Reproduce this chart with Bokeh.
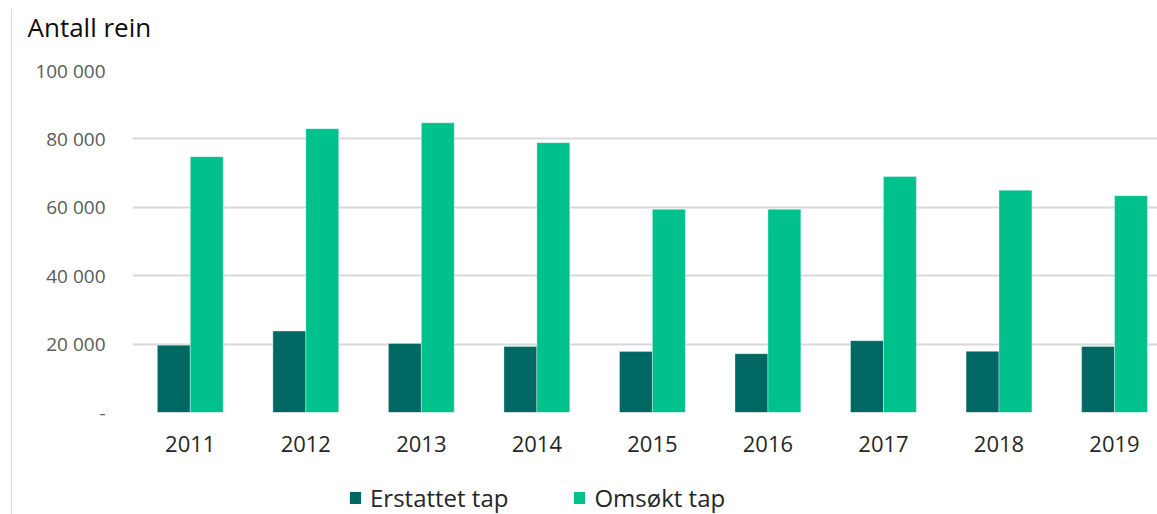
from bokeh.plotting import figure
from bokeh.models import (ColumnDataSource, FixedTicker, Legend, LegendItem,
                          Range1d)
from bokeh.layouts import column
from bokeh.transform import dodge
from bokeh.embed import file_html
from bokeh.resources import INLINE

years = ["2011", "2012", "2013", "2014", "2015", "2016", "2017", "2018", "2019"]
erstattet = [19700, 23800, 20200, 19300, 17800, 17200, 21000, 17900, 19300]
omsokt = [74800, 83000, 84700, 78900, 59400, 59400, 69000, 65000, 63400]
y_ticks = [0, 20000, 40000, 60000, 80000, 100000]
y_labels = ["-", "20 000", "40 000", "60 000", "80 000", "100 000"]
series_names = ["Erstattet tap", "Omsøkt tap"]
title_text = "Antall rein"

FONT = "Open Sans"
DARK = "#006863"
LIGHT = "#00C08B"

idx = list(range(len(years)))
src = ColumnDataSource(dict(x=idx, erstattet=erstattet, omsokt=omsokt))


def strip(height):
    f = figure(width=1157, height=height, output_backend="svg", toolbar_location=None,
               x_range=Range1d(-0.5, 8.372), y_range=Range1d(-2e6, -1e6),
               min_border_left=132, min_border_right=0, min_border_top=0,
               min_border_bottom=0)
    f.axis.visible = False
    f.grid.visible = False
    f.outline_line_color = None
    f.background_fill_alpha = 0
    f.border_fill_alpha = 0
    return f


# title strip on top
tt = strip(56)
tt.title.text = title_text
tt.title.text_font = FONT
tt.title.text_font_size = "26px"
tt.title.text_font_style = "normal"
tt.title.text_color = "#0d0d0d"
tt.title.align = "left"
tt.title.offset = -105
tt.title.standoff = 12

# main chart
p = figure(width=1157, height=418, output_backend="svg", toolbar_location=None,
           title=None,
           x_range=Range1d(-0.5, 8.372), y_range=Range1d(0, 100000),
           min_border_left=132, min_border_right=0, min_border_top=14,
           min_border_bottom=62)
p.outline_line_color = None
p.background_fill_alpha = 0
p.border_fill_alpha = 0

bw = 0.285
r1 = p.vbar(x=dodge("x", -bw / 2, range=p.x_range), top="erstattet", width=bw,
            source=src, fill_color=DARK, line_color="#ffffff", line_alpha=0.35,
            line_width=1)
r2 = p.vbar(x=dodge("x", bw / 2, range=p.x_range), top="omsokt", width=bw,
            source=src, fill_color=LIGHT, line_color="#ffffff", line_alpha=0.35,
            line_width=1)

p.xaxis.ticker = FixedTicker(ticks=idx)
p.xaxis.major_label_overrides = {i: y for i, y in zip(idx, years)}
p.xaxis.axis_line_color = None
p.xaxis.major_tick_line_color = None
p.xaxis.minor_tick_line_color = None
p.xaxis.major_label_text_font = FONT
p.xaxis.major_label_text_font_size = "22px"
p.xaxis.major_label_text_color = "#262626"
p.xaxis.major_label_standoff = 17

p.yaxis.ticker = FixedTicker(ticks=y_ticks)
p.yaxis.major_label_overrides = {t: l for t, l in zip(y_ticks, y_labels)}
p.yaxis.axis_line_color = None
p.yaxis.major_tick_line_color = None
p.yaxis.minor_tick_line_color = None
p.yaxis.major_label_text_font = FONT
p.yaxis.major_label_text_font_size = "19px"
p.yaxis.major_label_text_color = "#595959"
p.yaxis.major_label_standoff = 21

p.xgrid.grid_line_color = None
p.ygrid.grid_line_color = "#d9d9d9"
p.ygrid.grid_line_width = 2

# legend strip below the chart (its bars are empty)
lg = strip(40)
d1 = lg.vbar(x="x", top="erstattet", bottom="erstattet", width=0, source=src,
             fill_color=DARK, line_color=None)
d2 = lg.vbar(x="x", top="omsokt", bottom="omsokt", width=0, source=src,
             fill_color=LIGHT, line_color=None)
legend = Legend(items=[LegendItem(label=series_names[0], renderers=[d1]),
                       LegendItem(label=series_names[1], renderers=[d2])],
                orientation="horizontal", location=(216, 0),
                label_text_font=FONT, label_text_font_size="24px",
                label_text_color="#262626", glyph_width=14, glyph_height=15,
                label_standoff=8, spacing=64, padding=0, margin=0,
                border_line_color=None, background_fill_alpha=0)
lg.add_layout(legend, "center")

layout = column(tt, p, lg, spacing=0)
layout.styles = {
    "background": "linear-gradient(#d9d9d9, #d9d9d9) 11px 9px / 1px calc(100% - 9px) no-repeat, #ffffff"
}

open("out.html", "w").write(file_html(layout, INLINE))
